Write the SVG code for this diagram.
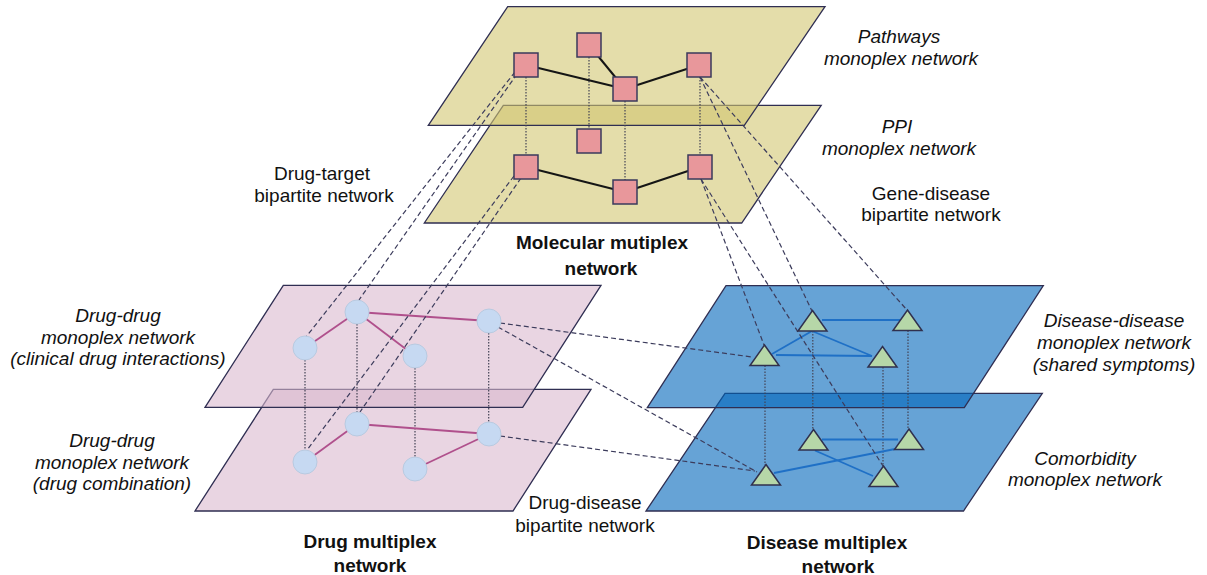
<svg xmlns="http://www.w3.org/2000/svg" width="1207" height="575" viewBox="0 0 1207 575">
<style>
.pl{stroke:#2f2e52;stroke-width:1.3;fill-opacity:0.6}
.mol{fill:#d2c671}
.drg{fill:#dab9cf}
.dis{fill:#0066bb}
.sq{fill:#e8979b;stroke:#3a3a5c;stroke-width:1.5}
.ci{fill:#c6d9f2;stroke:#b9cae0;stroke-width:1}
.tr{fill:#b6d7a8;stroke:#30304e;stroke-width:1.5}
.em{stroke:#151515;stroke-width:2;fill:none}
.ed{stroke:#b0508c;stroke-width:1.8;fill:none}
.es{stroke:#1f70c6;stroke-width:1.8;fill:none}
.dash{stroke:#3c3c5c;stroke-width:1.2;stroke-dasharray:5 3;fill:none}
.dot{stroke:#444455;stroke-width:1.2;stroke-dasharray:1.5 1.5;fill:none}
text{font-family:"Liberation Sans",Arial,sans-serif;font-size:19px;fill:#111;text-anchor:middle}
.it{font-style:italic}
.b{font-weight:bold}
</style>
<g id="planes">
<polygon id="ppi-plane" class="pl mol" points="503.3,105.3 821.2,105.3 741.7,223 424.3,223"/>
<polygon id="pathways-plane" class="pl mol" points="507.7,6.7 825,6.7 744.3,125.3 428.3,125.3"/>
<polygon id="drug-comb-plane" class="pl drg" points="273.3,389.3 591,389.3 513,511 195,511"/>
<polygon id="drug-clin-plane" class="pl drg" points="283.3,285.3 601,285.3 522.7,407.3 205,407.3"/>
<polygon id="comorb-plane" class="pl dis" points="725,393.3 1042.3,393.3 963.5,511 646,511"/>
<polygon id="disdis-plane" class="pl dis" points="726,285.7 1043.3,285.7 964.3,407.7 647.3,407.7"/>
</g>
<g id="connectors">
<line class="dot" x1="526" y1="77" x2="526" y2="156"/>
<line class="dot" x1="589" y1="57" x2="589" y2="130"/>
<line class="dot" x1="625" y1="101" x2="625" y2="181"/>
<line class="dot" x1="700" y1="77" x2="700" y2="156"/>
<line class="dot" x1="357" y1="324" x2="357" y2="412"/>
<line class="dot" x1="305" y1="360" x2="305" y2="450"/>
<line class="dot" x1="415" y1="368" x2="415" y2="457"/>
<line class="dot" x1="488.7" y1="333" x2="488.7" y2="422"/>
<line class="dot" x1="812.8" y1="331" x2="812.8" y2="430"/>
<line class="dot" x1="908" y1="330.5" x2="908" y2="429.5"/>
<line class="dot" x1="765" y1="365.5" x2="765" y2="465"/>
<line class="dot" x1="883" y1="367" x2="883" y2="466.5"/>
<line class="em" x1="526" y1="65" x2="625" y2="89"/>
<line class="em" x1="589" y1="45" x2="625" y2="89"/>
<line class="em" x1="625" y1="89" x2="699" y2="65"/>
<line class="em" x1="526" y1="167" x2="625" y2="192"/>
<line class="em" x1="625" y1="192" x2="700" y2="167"/>
<line class="ed" x1="357" y1="312" x2="305" y2="348"/>
<line class="ed" x1="357" y1="312" x2="415" y2="356"/>
<line class="ed" x1="357" y1="312" x2="489" y2="321"/>
<line class="ed" x1="357" y1="424" x2="305" y2="462"/>
<line class="ed" x1="357" y1="424" x2="489" y2="434"/>
<line class="ed" x1="415" y1="469" x2="489" y2="434"/>
<line class="es" x1="822" y1="320" x2="900" y2="320"/>
<line class="es" x1="812" y1="331" x2="772" y2="354"/>
<line class="es" x1="812" y1="331" x2="872" y2="356"/>
<line class="es" x1="776" y1="355" x2="872" y2="356"/>
<line class="es" x1="822" y1="439.5" x2="898" y2="439.5"/>
<line class="es" x1="815" y1="450.5" x2="873" y2="476"/>
<line class="es" x1="774" y1="473" x2="895" y2="449"/>
<line class="dash" x1="515" y1="72" x2="306" y2="337"/>
<line class="dash" x1="517" y1="74" x2="359" y2="300"/>
<line class="dash" x1="514" y1="176" x2="307" y2="450"/>
<line class="dash" x1="521" y1="178" x2="360" y2="412"/>
<line class="dash" x1="700" y1="77" x2="907" y2="310"/>
<line class="dash" x1="700" y1="77" x2="812" y2="311"/>
<line class="dash" x1="701" y1="179" x2="764" y2="345"/>
<line class="dash" x1="701" y1="179" x2="883" y2="466"/>
<line class="dash" x1="500" y1="323" x2="752" y2="357"/>
<line class="dash" x1="498" y1="327" x2="757" y2="472"/>
<line class="dash" x1="500" y1="436" x2="755" y2="471"/>
</g>
<g id="molecular-nodes">
<rect id="s1" class="sq" x="514" y="53" width="24" height="24"/>
<rect id="s2" class="sq" x="577" y="33" width="24" height="24"/>
<rect id="s3" class="sq" x="613" y="77" width="24" height="24"/>
<rect id="s4" class="sq" x="687" y="53" width="24" height="24"/>
<rect id="s5" class="sq" x="514" y="155" width="24" height="24"/>
<rect id="s6" class="sq" x="577" y="129" width="24" height="24"/>
<rect id="s7" class="sq" x="613" y="180" width="24" height="24"/>
<rect id="s8" class="sq" x="688" y="155" width="24" height="24"/>
</g>
<g id="drug-nodes">
<circle id="c1" class="ci" cx="357" cy="312" r="12"/>
<circle id="c2" class="ci" cx="305" cy="348" r="12"/>
<circle id="c3" class="ci" cx="415" cy="356" r="12"/>
<circle id="c4" class="ci" cx="489" cy="321" r="12"/>
<circle id="c5" class="ci" cx="357" cy="424" r="12"/>
<circle id="c6" class="ci" cx="305" cy="462" r="12"/>
<circle id="c7" class="ci" cx="415" cy="469" r="12"/>
<circle id="c8" class="ci" cx="489" cy="434" r="12"/>
</g>
<g id="disease-nodes">
<polygon id="t1" class="tr" points="812.5,310.5 827,331 798,331"/>
<polygon id="t2" class="tr" points="907.5,310 922,330.5 893,330.5"/>
<polygon id="t3" class="tr" points="764.5,345 779,365.5 750,365.5"/>
<polygon id="t4" class="tr" points="882.5,346.5 897,367 868,367"/>
<polygon id="t5" class="tr" points="813.5,429.5 828,450 799,450"/>
<polygon id="t6" class="tr" points="909,429 923.5,449.5 894.5,449.5"/>
<polygon id="t7" class="tr" points="766,464.5 780.5,485 751.5,485"/>
<polygon id="t8" class="tr" points="883.5,466 898,486.5 869,486.5"/>
</g>
<g id="labels">
<text class="it" x="899" y="43">Pathways</text>
<text class="it" x="901" y="65">monoplex network</text>
<text class="it" x="897" y="133">PPI</text>
<text class="it" x="899" y="155">monoplex network</text>
<text x="931" y="200">Gene-disease</text>
<text x="931" y="221">bipartite network</text>
<text x="322" y="180">Drug-target</text>
<text x="324" y="202">bipartite network</text>
<text class="b" x="602" y="249">Molecular mutiplex</text>
<text class="b" x="601" y="275">network</text>
<text class="it" x="118" y="322">Drug-drug</text>
<text class="it" x="118" y="343.5">monoplex network</text>
<text class="it" x="118" y="365">(clinical drug interactions)</text>
<text class="it" x="112" y="447">Drug-drug</text>
<text class="it" x="112" y="468.5">monoplex network</text>
<text class="it" x="112" y="490">(drug combination)</text>
<text class="it" x="1114" y="327">Disease-disease</text>
<text class="it" x="1114" y="349">monoplex network</text>
<text class="it" x="1114" y="371">(shared symptoms)</text>
<text class="it" x="1085" y="465">Comorbidity</text>
<text class="it" x="1085" y="486">monoplex network</text>
<text x="585" y="509">Drug-disease</text>
<text x="585" y="532">bipartite network</text>
<text class="b" x="370" y="548">Drug multiplex</text>
<text class="b" x="370" y="572">network</text>
<text class="b" x="827" y="549">Disease multiplex</text>
<text class="b" x="838" y="573">network</text>
</g>
</svg>
